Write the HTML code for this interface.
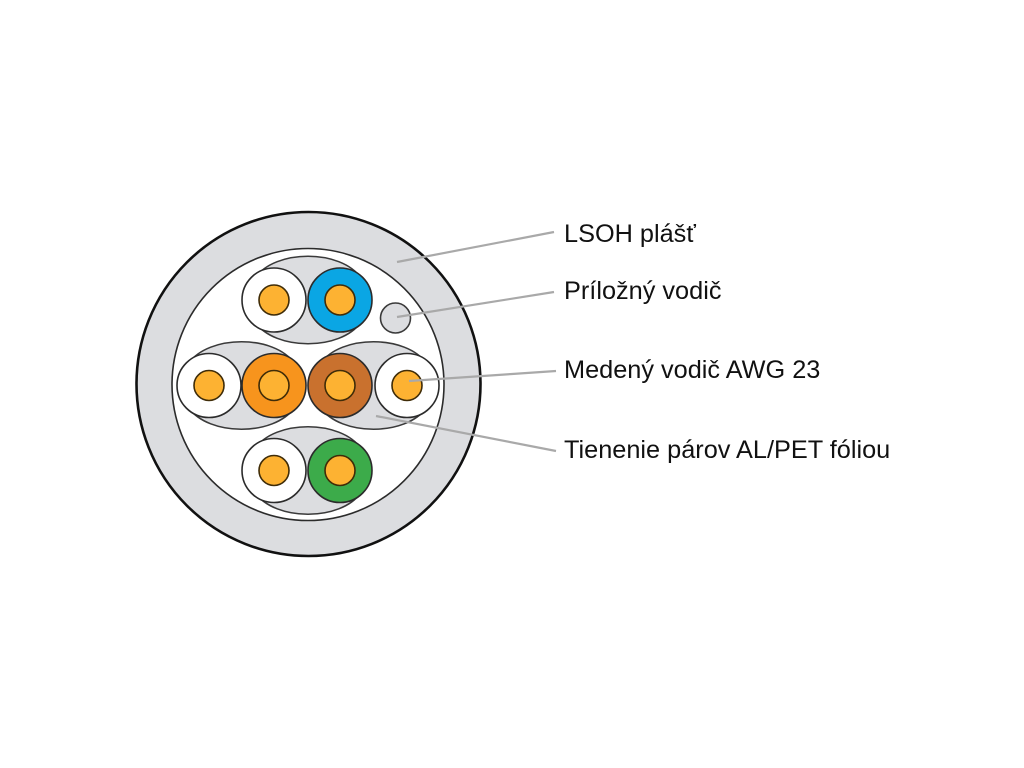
<!DOCTYPE html>
<html>
<head>
<meta charset="utf-8">
<style>
html,body{margin:0;padding:0;background:#fff;width:1024px;height:768px;overflow:hidden}
svg{display:block}
.c{stroke:#2b2b2b;stroke-width:1.6}
.k{fill:#fdb232;stroke:#3f2c08;stroke-width:1.6}
.l{fill:#dcdde0;stroke:#3a3a3a;stroke-width:1.6}
.t{font-family:"Liberation Sans",sans-serif;font-size:25.3px;fill:#111}
.g{stroke:#a9a9a9;stroke-width:2.2;fill:none}
</style>
</head>
<body>
<svg width="1024" height="768" viewBox="0 0 1024 768" xmlns="http://www.w3.org/2000/svg">
<g style="filter:blur(0.35px)">
<circle cx="308.5" cy="384" r="172" fill="#dcdde0" stroke="#111" stroke-width="2.6"/>
<circle cx="308" cy="384.5" r="136" fill="#fff" stroke="#2b2b2b" stroke-width="1.6"/>

<path class="l" d="M255 278 C275 249 341 249 361 278 L361 322 C341 351 275 351 255 322 Z"/>
<path class="l" d="M188.500 363.500 C208.500 334.500 274.500 334.500 294.500 363.500 L294.500 407.500 C274.500 436.500 208.500 436.500 188.500 407.500 Z"/>
<path class="l" d="M320.500 363.500 C340.500 334.500 406.500 334.500 426.500 363.500 L426.500 407.500 C406.500 436.500 340.500 436.500 320.500 407.500 Z"/>
<path class="l" d="M255 448.500 C275 419.500 341 419.500 361 448.500 L361 492.500 C341 521.500 275 521.500 255 492.500 Z"/>

<circle class="c" cx="274" cy="300" r="32" fill="#fff"/>
<circle class="c" cx="340" cy="300" r="32" fill="#0aa6e4"/>
<circle class="k" cx="274" cy="300" r="15"/>
<circle class="k" cx="340" cy="300" r="15"/>

<circle class="c" cx="209" cy="385.500" r="32" fill="#fff"/>
<circle class="c" cx="274" cy="385.500" r="32" fill="#f7941d"/>
<circle class="c" cx="340" cy="385.500" r="32" fill="#c9712e"/>
<circle class="c" cx="407" cy="385.500" r="32" fill="#fff"/>
<circle class="k" cx="209" cy="385.500" r="15"/>
<circle class="k" cx="274" cy="385.500" r="15"/>
<circle class="k" cx="340" cy="385.500" r="15"/>
<circle class="k" cx="407" cy="385.500" r="15"/>

<circle class="c" cx="274" cy="470.500" r="32" fill="#fff"/>
<circle class="c" cx="340" cy="470.500" r="32" fill="#3cab4a"/>
<circle class="k" cx="274" cy="470.500" r="15"/>
<circle class="k" cx="340" cy="470.500" r="15"/>

<circle cx="395.500" cy="318" r="15" fill="#dcdde0" stroke="#3a3a3a" stroke-width="1.6"/>

<line class="g" x1="397" y1="262" x2="554" y2="232"/>
<line class="g" x1="397" y1="317" x2="554" y2="292"/>
<line class="g" x1="409" y1="381" x2="556" y2="371"/>
<line class="g" x1="376" y1="416" x2="556" y2="451"/>

<text class="t" x="564" y="242">LSOH plášť</text>
<text class="t" x="564" y="299">Príložný vodič</text>
<text class="t" x="564" y="378">Medený vodič AWG 23</text>
<text class="t" x="564" y="458">Tienenie párov AL/PET fóliou</text>
</g>
</svg>
</body>
</html>
